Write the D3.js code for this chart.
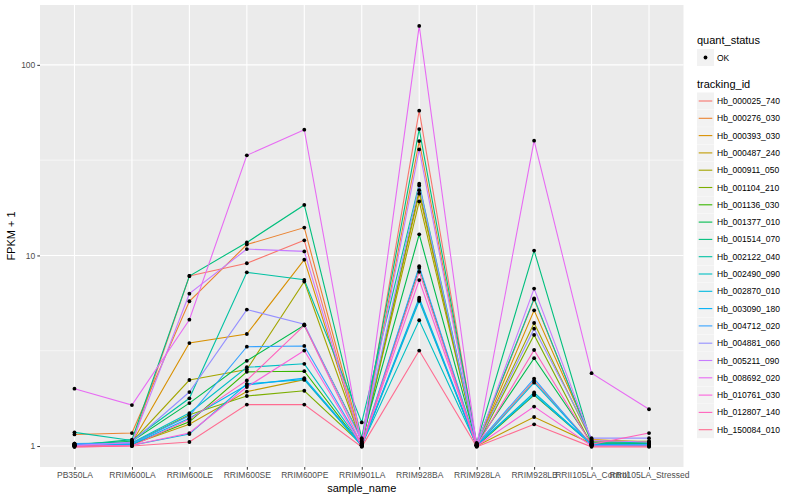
<!DOCTYPE html>
<html>
<head>
<meta charset="utf-8">
<script src="https://cdn.jsdelivr.net/npm/d3@7"></script>
<style>
  body { margin: 0; background: #fff; }
  text { font-family: "Liberation Sans", Arial, sans-serif; }
</style>
</head>
<body>
<script>
"use strict";
// samples on the x axis
const samples = ["PB350LA", "RRIM600LA", "RRIM600LE", "RRIM600SE", "RRIM600PE", "RRIM901LA",
  "RRIM928BA", "RRIM928LA", "RRIM928LB", "RRII105LA_Control", "RRII105LA_Stressed"];

const trackingIds = ["Hb_000025_740", "Hb_000276_030", "Hb_000393_030", "Hb_000487_240",
  "Hb_000911_050", "Hb_001104_210", "Hb_001136_030", "Hb_001377_010", "Hb_001514_070",
  "Hb_002122_040", "Hb_002490_090", "Hb_002870_010", "Hb_003090_180", "Hb_004712_020",
  "Hb_004881_060", "Hb_005211_090", "Hb_008692_020", "Hb_010761_030", "Hb_012807_140",
  "Hb_150084_010"];

// FPKM + 1, one row per tracking id, in sample order
const fpkm = [
  [1.01, 1.03, 7.8, 9.1, 12.0, 1.02, 57.5, 1.01, 2.2, 1.02, 1.03],
  [1.15, 1.17, 5.75, 11.4, 14.0, 1.05, 39.8, 1.02, 5.88, 1.05, 1.04],
  [1.02, 1.04, 3.47, 3.87, 9.5, 1.03, 21.1, 1.01, 5.15, 1.08, 1.05],
  [1.00, 1.02, 1.30, 1.93, 2.23, 1.01, 5.88, 1.00, 1.42, 1.03, 1.02],
  [1.01, 1.05, 2.22, 2.52, 7.3, 1.04, 19.2, 1.02, 4.42, 1.06, 1.06],
  [1.00, 1.03, 1.46, 1.83, 1.95, 1.02, 22.0, 1.01, 3.83, 1.01, 1.01],
  [1.01, 1.02, 1.34, 2.45, 2.47, 1.00, 8.6, 1.00, 1.85, 1.02, 1.01],
  [1.02, 1.06, 1.68, 2.8, 4.3, 1.08, 12.9, 1.03, 2.89, 1.04, 1.03],
  [1.01, 1.08, 7.8, 11.7, 18.4, 1.10, 46.0, 1.04, 10.6, 1.03, 1.02],
  [1.18, 1.07, 1.78, 8.15, 7.45, 1.33, 23.8, 1.03, 5.95, 1.05, 1.04],
  [1.03, 1.04, 1.49, 2.59, 2.7, 1.01, 4.57, 1.01, 1.91, 1.02, 1.02],
  [1.03, 1.01, 1.155, 2.12, 2.23, 1.00, 5.77, 1.00, 2.15, 1.01, 1.00],
  [1.02, 1.02, 1.40, 2.09, 2.27, 1.01, 6.0, 1.01, 1.87, 1.02, 1.01],
  [1.03, 1.03, 1.44, 3.32, 3.35, 1.02, 8.78, 1.02, 2.26, 1.00, 1.02],
  [1.00, 1.05, 1.92, 5.2, 4.35, 1.06, 23.3, 1.02, 4.13, 1.10, 1.10],
  [1.01, 1.04, 6.3, 10.8, 10.5, 1.03, 36.0, 1.01, 6.7, 1.07, 1.05],
  [2.0, 1.64, 4.6, 33.5, 45.7, 1.00, 160, 1.00, 40.0, 2.41, 1.56],
  [1.00, 1.01, 1.17, 2.04, 3.17, 1.00, 7.43, 1.00, 1.61, 1.00, 1.00],
  [0.99, 1.00, 1.38, 2.21, 4.3, 1.01, 8.2, 1.00, 3.19, 1.02, 1.17],
  [0.99, 1.00, 1.05, 1.65, 1.65, 0.99, 3.17, 0.99, 1.30, 0.99, 0.99]
];

const colors = ["#F8766D", "#EA8331", "#D89000", "#C09B00", "#A3A500", "#7CAE00", "#39B600",
  "#00BB4E", "#00BF7D", "#00C1A3", "#00BFC4", "#00BAE0", "#00B0F6", "#35A2FF", "#9590FF",
  "#C77CFF", "#E76BF3", "#FA62DB", "#FF62BC", "#FF6C91"];

const yTicks = [1, 10, 100];
const yMinor = [Math.pow(10, 0.5), Math.pow(10, 1.5)];

const width = 800, height = 500;
const panel = { left: 40, right: 683.5, top: 5, bottom: 467 };

const svg = d3.select("body").append("svg")
  .attr("width", width)
  .attr("height", height);

const x = d3.scalePoint()
  .domain(samples)
  .range([panel.left, panel.right])
  .padding(0.6);

const y = d3.scaleLog()
  .domain([Math.pow(10, -0.110), Math.pow(10, 2.314)])
  .range([panel.bottom, panel.top]);

// panel background + grid
svg.append("rect")
  .attr("x", panel.left).attr("y", panel.top)
  .attr("width", panel.right - panel.left)
  .attr("height", panel.bottom - panel.top)
  .attr("fill", "#EBEBEB");

const grid = svg.append("g");
grid.selectAll(".minor").data(yMinor).enter().append("line")
  .attr("x1", panel.left).attr("x2", panel.right)
  .attr("y1", d => y(d)).attr("y2", d => y(d))
  .attr("stroke", "#fff").attr("stroke-width", 0.55);
grid.selectAll(".majy").data(yTicks).enter().append("line")
  .attr("x1", panel.left).attr("x2", panel.right)
  .attr("y1", d => y(d)).attr("y2", d => y(d))
  .attr("stroke", "#fff").attr("stroke-width", 1.1);
grid.selectAll(".majx").data(samples).enter().append("line")
  .attr("x1", d => x(d)).attr("x2", d => x(d))
  .attr("y1", panel.top).attr("y2", panel.bottom)
  .attr("stroke", "#fff").attr("stroke-width", 1.1);

// lines
const series = trackingIds.map((id, i) => ({
  id: id,
  color: colors[i],
  values: samples.map((s, j) => ({ sample: s, v: fpkm[i][j] }))
}));

const line = d3.line()
  .x(d => x(d.sample))
  .y(d => y(d.v));

svg.append("g").selectAll("path")
  .data(series)
  .enter()
  .append("path")
  .attr("d", d => line(d.values))
  .attr("fill", "none")
  .attr("stroke", d => d.color)
  .attr("stroke-width", 1.1);

// points
svg.append("g").selectAll("g")
  .data(series)
  .enter()
  .append("g")
  .selectAll("circle")
  .data(d => d.values)
  .enter()
  .append("circle")
  .attr("cx", d => x(d.sample))
  .attr("cy", d => y(d.v))
  .attr("r", 1.9)
  .attr("fill", "#000");

// axes
const xAxis = d3.axisBottom(x).tickSize(2.7).tickPadding(2);
const gx = svg.append("g")
  .attr("transform", "translate(0," + panel.bottom + ")")
  .call(xAxis);
const yAxis = d3.axisLeft(y).tickValues(yTicks).tickFormat(d3.format("d")).tickSize(2.7).tickPadding(2);
const gy = svg.append("g")
  .attr("transform", "translate(" + panel.left + ",0)")
  .call(yAxis);

[gx, gy].forEach(g => {
  g.select(".domain").remove();
  g.selectAll(".tick line").attr("stroke", "#333333").attr("stroke-width", 1);
  g.selectAll(".tick text")
    .attr("fill", "#4D4D4D")
    .style("font-size", "8.5px")
    .style("font-family", "'Liberation Sans', Arial, sans-serif");
});

svg.append("text")
  .attr("x", (panel.left + panel.right) / 2)
  .attr("y", 492)
  .attr("text-anchor", "middle")
  .style("font-size", "11px")
  .text("sample_name");

svg.append("text")
  .attr("transform", "translate(15," + ((panel.top + panel.bottom) / 2) + ") rotate(-90)")
  .attr("text-anchor", "middle")
  .style("font-size", "11px")
  .text("FPKM + 1");

// legends
const legend = svg.append("g");
legend.append("text").attr("x", 697).attr("y", 44)
  .style("font-size", "11px").text("quant_status");
legend.append("rect").attr("x", 697).attr("y", 49)
  .attr("width", 17).attr("height", 17).attr("fill", "#F2F2F2");
legend.append("circle").attr("cx", 705.5).attr("cy", 57.5).attr("r", 1.9).attr("fill", "#000");
legend.append("text").attr("x", 717).attr("y", 60.5)
  .style("font-size", "8.5px").text("OK");

legend.append("text").attr("x", 697).attr("y", 88)
  .style("font-size", "11px").text("tracking_id");

const keyStep = 17.3;
const keys = legend.selectAll(".key")
  .data(series)
  .enter()
  .append("g")
  .attr("transform", (d, i) => "translate(697," + (92.5 + i * keyStep) + ")");
keys.append("rect")
  .attr("width", 17).attr("height", 17).attr("fill", "#F2F2F2");
keys.append("line")
  .attr("x1", 1.7).attr("x2", 15.3)
  .attr("y1", 8.5).attr("y2", 8.5)
  .attr("stroke", d => d.color).attr("stroke-width", 1.1);
keys.append("text")
  .attr("x", 20).attr("y", 11.5)
  .style("font-size", "8.5px")
  .text(d => d.id);
</script>
</body>
</html>
